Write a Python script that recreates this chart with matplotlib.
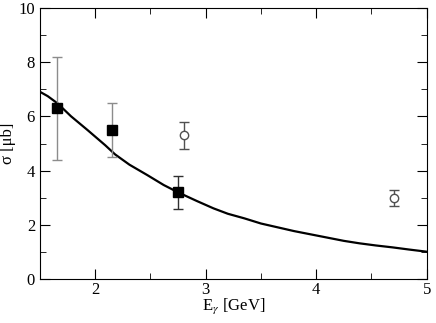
import matplotlib
matplotlib.use('Agg')
import matplotlib.pyplot as plt
from matplotlib.ticker import MultipleLocator

plt.rcParams['font.family'] = ['Liberation Serif', 'DejaVu Serif']
plt.rcParams['mathtext.fontset'] = 'stix'

# curve
curve_x = [1.50, 1.57, 1.66, 1.78, 1.93, 2.09, 2.18, 2.31, 2.47, 2.62, 2.75, 2.92,
           3.07, 3.20, 3.35, 3.50, 3.65, 3.80, 3.95, 4.10, 4.25, 4.39, 4.54, 4.69,
           4.84, 5.00]
curve_y = [6.91, 6.75, 6.48, 6.01, 5.50, 4.94, 4.60, 4.22, 3.84, 3.47, 3.20, 2.88,
           2.61, 2.41, 2.24, 2.05, 1.91, 1.77, 1.65, 1.53, 1.41, 1.32, 1.24, 1.17,
           1.09, 1.01]

# filled squares
sq_x = [1.65, 2.15, 2.75]
sq_y = [6.3, 5.5, 3.2]
sq_err = [1.9, 1.0, 0.6]
sq_ecol = ['#8c8c8c', '#8c8c8c', '#303030']

# open circles
ci_x = [2.8, 4.7]
ci_y = [5.3, 3.0]
ci_err = [0.5, 0.3]

fig = plt.figure(figsize=(4.36, 3.23), dpi=100)
ax = fig.add_axes([0.0917, 0.136, 0.887, 0.839])

ax.plot(curve_x, curve_y, color='black', lw=1.6, zorder=3)

for x, y, e, c in zip(sq_x, sq_y, sq_err, sq_ecol):
    ax.errorbar(x, y, yerr=e, fmt='s', color='black', ms=6.5,
                ecolor=c, elinewidth=1.0, capsize=3.5, capthick=1.0, zorder=4)

ax.errorbar(ci_x, ci_y, yerr=ci_err, fmt='o', mfc='white', mec='#505050',
            ms=6, mew=1.0, ecolor='#505050', elinewidth=1.0,
            capsize=3.5, capthick=1.0, zorder=4)

ax.set_xlim(1.5, 5)
ax.set_ylim(0, 10)
ax.xaxis.set_major_locator(MultipleLocator(1))
ax.xaxis.set_minor_locator(MultipleLocator(0.5))
ax.yaxis.set_major_locator(MultipleLocator(2))
ax.yaxis.set_minor_locator(MultipleLocator(1))
ax.tick_params(which='both', direction='in', top=True, right=True, labelsize=12)
ax.tick_params(which='major', length=7)
ax.tick_params(which='minor', length=4)
ax.tick_params(axis='x', pad=2)

ax.set_xlabel(r'E$_{\gamma}$ [GeV]', fontsize=12)
ax.set_ylabel('σ [μb]', fontsize=12)
ax.xaxis.set_label_coords(0.5, -0.064)
ax.yaxis.set_label_coords(-0.062, 0.5)

fig.savefig('out.png', dpi=100)
